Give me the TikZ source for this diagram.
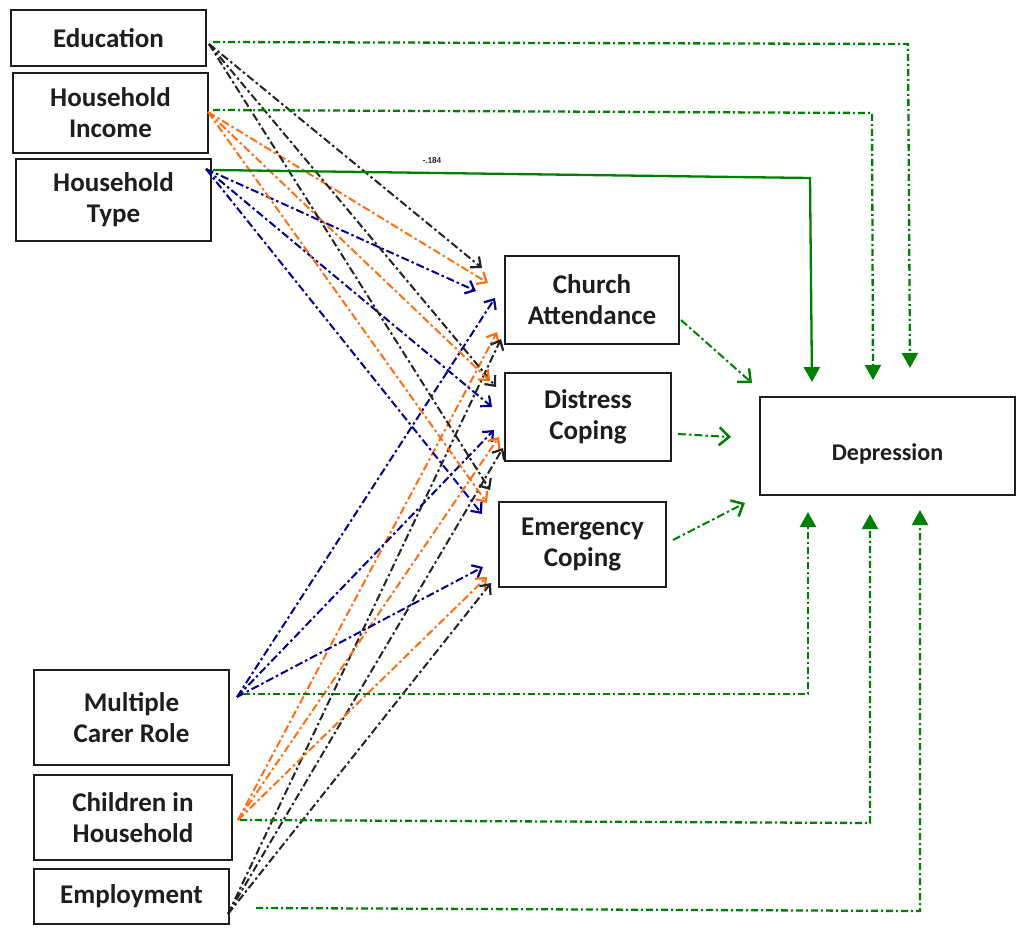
\documentclass[tikz,border=0pt]{standalone}
\usepackage{fontspec}
\setmainfont{Carlito}
\usetikzlibrary{arrows.meta}
\definecolor{ink}{RGB}{30,30,30}
\definecolor{blk}{RGB}{35,35,35}
\definecolor{org}{RGB}{255,110,20}
\definecolor{nvy}{RGB}{0,0,140}
\definecolor{grn}{RGB}{0,128,0}
\begin{document}
\begin{tikzpicture}[x=1pt,y=-1pt,
  var/.style={draw=ink,line width=2pt,fill=white,text=ink,align=center,inner sep=0pt,
    font=\bfseries\fontsize{27}{31}\selectfont},
  dashdot/.style={dash pattern=on 8pt off 3pt on 2.5pt off 3pt},
  link/.style={line width=2pt,dashdot,-{Straight Barb[length=8pt,width=14pt,line width=2.2pt]}},
  medlink/.style={draw=grn,line width=2pt,dashdot,-{Straight Barb[length=10pt,width=18pt,line width=2.5pt]}},
  direct/.style={draw=grn,line width=2.3pt,dash pattern=on 7pt off 3pt on 2pt off 3pt,
    -{Triangle[length=15pt,width=16pt]}},
  directsolid/.style={draw=grn,line width=2.3pt,-{Triangle[length=15pt,width=16pt]}},
]
\useasboundingbox (0,0) rectangle (1018,928);

% ---- variables ----
\node[var,minimum width=195pt,minimum height=56pt] (edu) at (108.5,38) {Education};
\node[var,minimum width=195pt,minimum height=80pt] (inc) at (110.5,113) {Household\\Income};
\node[var,minimum width=195pt,minimum height=82pt] (typ) at (113.5,200) {Household\\Type};
\node[var,minimum width=174pt,minimum height=88pt] (church) at (592,300) {Church\\Attendance};
\node[var,minimum width=166pt,minimum height=88pt] (distress) at (588,417) {Distress\\Coping};
\node[var,minimum width=167pt,minimum height=85pt] (emerg) at (582.5,544.5) {Emergency\\Coping};
\node[var,minimum width=255pt,minimum height=98pt,font=\bfseries\fontsize{24}{28}\selectfont] (dep) at (887.5,446) {\raisebox{-14pt}[0pt][0pt]{Depression}};
\node[var,minimum width=195pt,minimum height=95pt] (carer) at (131.5,717.5) {Multiple\\Carer Role};
\node[var,minimum width=198pt,minimum height=85pt] (child) at (133,817.5) {Children in\\Household};
\node[var,minimum width=195pt,minimum height=55pt] (empl) at (131.5,896.5) {Employment};

% ---- connector end points ----
\coordinate (eduO) at (209,44);
\coordinate (incO) at (208,112);
\coordinate (typO) at (206,169);
\coordinate (carO) at (237,697);
\coordinate (chiO) at (238,820);
\coordinate (empO) at (228,914);

% tips at the mediators
\coordinate (eduC) at (482,268);  \coordinate (eduD) at (496,387);  \coordinate (eduE) at (490,490);
\coordinate (incC) at (488,283);  \coordinate (incD) at (490,381);  \coordinate (incE) at (487,503);
\coordinate (typC) at (476,291);  \coordinate (typD) at (492,407);  \coordinate (typE) at (482,514);
\coordinate (carC) at (495,298);  \coordinate (carD) at (494,430);  \coordinate (carE) at (483,567);
\coordinate (chiC) at (497,332);  \coordinate (chiD) at (499,437);  \coordinate (chiE) at (487,577);
\coordinate (empC) at (501,339);  \coordinate (empD) at (503,448);  \coordinate (empE) at (491,583);

% ---- paths to the mediators ----
\foreach \m in {C,D,E} {
  \draw[link,draw=blk] (eduO) -- (edu\m);
  \draw[link,draw=org] (incO) -- (inc\m);
  \draw[link,draw=nvy] (typO) -- (typ\m);
  \draw[link,draw=nvy] (carO) -- (car\m);
  \draw[link,draw=org] (chiO) -- (chi\m);
  \draw[link,draw=blk] (empO) -- (emp\m);
}

% ---- mediators to depression ----
\coordinate (churchO) at (681,320);   \coordinate (churchT) at (752,383);
\coordinate (distressO) at (678,434); \coordinate (distressT) at (731,437);
\coordinate (emergO) at (673,540);    \coordinate (emergT) at (745,503);
\draw[medlink] (churchO) -- (churchT);
\draw[medlink] (distressO) -- (distressT);
\draw[medlink] (emergO) -- (emergT);

% ---- direct paths to depression ----
\coordinate (eduG) at (213,42);  \coordinate (eduK) at (908,44);  \coordinate (eduT) at (910,368);
\coordinate (incG) at (213,110); \coordinate (incK) at (872,113); \coordinate (incT) at (873,380);
\coordinate (typG) at (213,170); \coordinate (typK) at (810,178); \coordinate (typT) at (812,382);
\coordinate (carG) at (243,694); \coordinate (carK) at (808,694); \coordinate (carT) at (808,512);
\coordinate (chiG) at (240,820); \coordinate (chiK) at (870,823); \coordinate (chiT) at (870,514);
\coordinate (empG) at (256,908); \coordinate (empK) at (920,911); \coordinate (empT) at (920,510);

\draw[direct] (eduG) -- (eduK) -- (eduT);
\draw[direct] (incG) -- (incK) -- (incT);
\draw[directsolid] (typG) -- (typK) -- (typT);
\draw[direct] (carG) -- (carK) -- (carT);
\draw[direct] (chiG) -- (chiK) -- (chiT);
\draw[direct] (empG) -- (empK) -- (empT);

\node[text=ink,font=\bfseries\fontsize{9}{10}\selectfont] (coef) at (432,160) {-.184};
\end{tikzpicture}
\end{document}
